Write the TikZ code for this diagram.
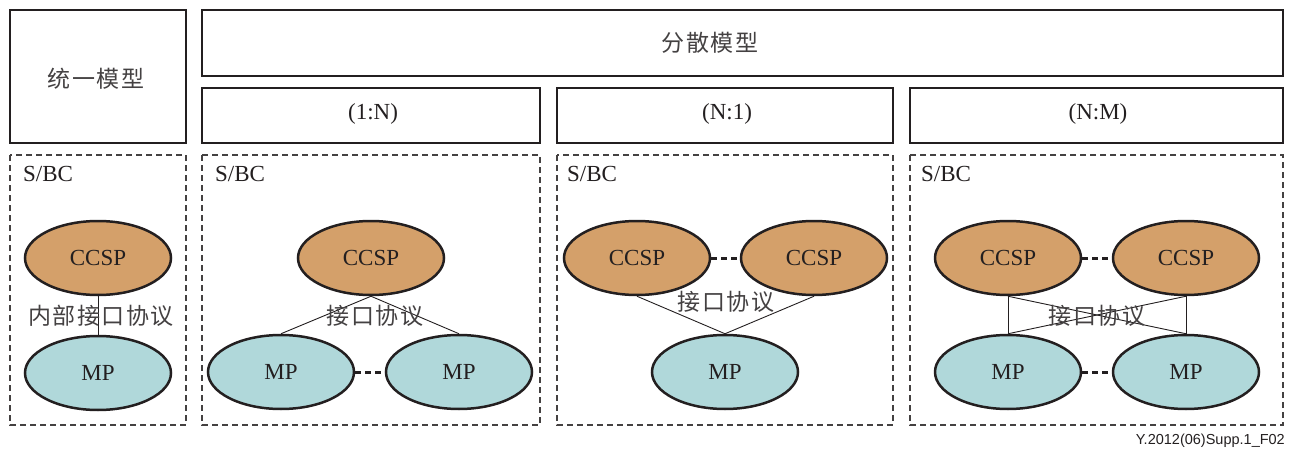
\documentclass[tikz,border=0pt]{standalone}
\usepackage{fontspec}
\setmainfont{Liberation Serif}
\newfontfamily\cjk[LetterSpace=6]{Noto Sans CJK SC}
\newfontfamily\footfont{Liberation Sans}
\usetikzlibrary{shapes.geometric}
\definecolor{ink}{HTML}{231F20}
\definecolor{ccspfill}{HTML}{D4A06A}
\definecolor{mpfill}{HTML}{B0D8DA}
\tikzset{
  titlebox/.style={draw=ink, line width=2pt},
  groupbox/.style={draw=ink!85, line width=1.3pt, dash pattern=on 6pt off 4pt},
  ccsp/.style={ellipse, draw=ink, line width=2.5pt, fill=ccspfill, minimum width=146pt, minimum height=74pt, inner sep=0pt, text=ink, font=\fontsize{23}{25}\selectfont},
  mp/.style={ellipse, draw=ink, line width=2.5pt, fill=mpfill, minimum width=146pt, minimum height=74pt, inner sep=0pt, text=ink, font=\fontsize{23}{25}\selectfont},
  link/.style={draw=ink, line width=0.9pt},
  peer/.style={draw=ink, line width=3pt, dash pattern=on 6pt off 4pt},
  cjklabel/.style={text=ink!85, font=\cjk\fontsize{23}{25}\selectfont, inner sep=0pt},
  serlabel/.style={text=ink, font=\fontsize{23}{25}\selectfont, inner sep=0pt},
}
\begin{document}
\begin{tikzpicture}[x=1pt,y=-1pt]
\useasboundingbox (0,0) rectangle (1294,452);
% title boxes
\draw[titlebox] (10,10) rectangle (186,143);
\node[cjklabel] (t0) at (96,79) {统一模型};
\draw[titlebox] (202,10) rectangle (1283,76);
\node[cjklabel] (t1) at (710,43) {分散模型};
\draw[titlebox] (202,88) rectangle (540,143);
\node[serlabel] (t2) at (373,114) {(1:N)};
\draw[titlebox] (557,88) rectangle (893,143);
\node[serlabel] (t3) at (727,114) {(N:1)};
\draw[titlebox] (910,88) rectangle (1283,143);
\node[serlabel] (t4) at (1098,114) {(N:M)};
% group boxes
\draw[groupbox] (10,155) rectangle (186,425);
\draw[groupbox] (202,155) rectangle (540,425);
\draw[groupbox] (557,155) rectangle (893,425);
\draw[groupbox] (910,155) rectangle (1283,425);
\node[serlabel, anchor=west] (s0) at (23,174) {S/BC};
\node[serlabel, anchor=west] (s1) at (215,174) {S/BC};
\node[serlabel, anchor=west] (s2) at (567,174) {S/BC};
\node[serlabel, anchor=west] (s3) at (921,174) {S/BC};
% unified
\node[ccsp] (a1) at (98,258) {CCSP};
\node[mp] (a2) at (98,373) {MP};
\draw[link] (a1.south) -- (a2.north);
\node[cjklabel] (la) at (101,316) {内部接口协议};
% 1:N
\node[ccsp] (b1) at (371,258) {CCSP};
\node[mp] (b2) at (281,372) {MP};
\node[mp] (b3) at (459,372) {MP};
\draw[link] (b1.south) -- (b2.north);
\draw[link] (b1.south) -- (b3.north);
\draw[peer] (b2.east) -- (b3.west);
\node[cjklabel] (lb) at (375,316) {接口协议};
% N:1
\node[ccsp] (c1) at (637,258) {CCSP};
\node[ccsp] (c2) at (814,258) {CCSP};
\node[mp] (c3) at (725,372) {MP};
\draw[link] (c1.south) -- (c3.north);
\draw[link] (c2.south) -- (c3.north);
\draw[peer] (c1.east) -- (c2.west);
\node[cjklabel] (lc) at (726,302) {接口协议};
% N:M
\node[ccsp] (d1) at (1008,258) {CCSP};
\node[ccsp] (d2) at (1186,258) {CCSP};
\node[mp] (d3) at (1008,372) {MP};
\node[mp] (d4) at (1186,372) {MP};
\draw[link] (d1.south) -- (d3.north);
\draw[link] (d2.south) -- (d4.north);
\draw[link] (d1.south) -- (d4.north);
\draw[link] (d2.south) -- (d3.north);
\draw[peer] (d1.east) -- (d2.west);
\draw[peer] (d3.east) -- (d4.west);
\node[cjklabel] (ld) at (1097,316) {接口协议};
% footnote
\node[anchor=east, inner sep=0pt, text=ink, font=\footfont\fontsize{14.5}{16}\selectfont] (fn) at (1285,441) {Y.2012(06)Supp.1\_F02};
\end{tikzpicture}
\end{document}
